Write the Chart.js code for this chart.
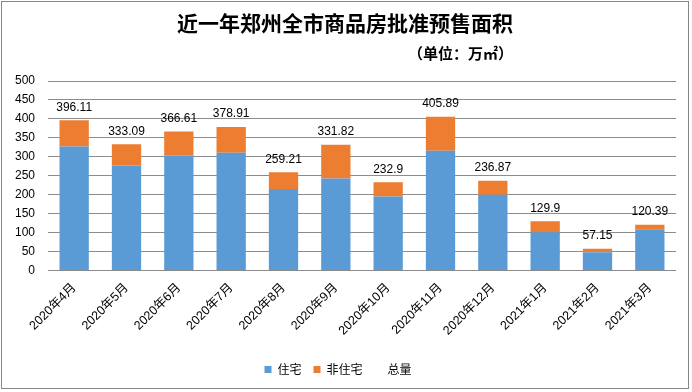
<!DOCTYPE html>
<html><head><meta charset="utf-8">
<script src="https://cdn.jsdelivr.net/npm/chart.js@4/dist/chart.umd.min.js"></script>
<style>html,body{margin:0;padding:0;background:#fff}#wrap{width:692px;height:392px}canvas{display:block}</style>
</head><body><div id="wrap"><canvas id="c" width="692" height="392"></canvas></div>
<script>
const categories = ['2020年4月','2020年5月','2020年6月','2020年7月','2020年8月','2020年9月','2020年10月','2020年11月','2020年12月','2021年1月','2021年2月','2021年3月'];
const residential = [327, 277, 303, 311, 215, 243, 195, 316, 200, 101, 48, 109];
const nonResidential = [69.11, 56.09, 63.61, 67.91, 44.21, 88.82, 37.9, 89.89, 36.87, 28.9, 9.15, 11.39];
const totals = [396.11, 333.09, 366.61, 378.91, 259.21, 331.82, 232.9, 405.89, 236.87, 129.9, 57.15, 120.39];
const seriesNames = ['住宅', '非住宅', '总量'];
const yMin = 0, yMax = 500, yStep = 50;
const titleText = '近一年郑州全市商品房批准预售面积';
const unitText = '（单位：万㎡）';

const CJK = '"Noto Sans CJK SC"';
const LAT = '"Liberation Sans", "Noto Sans CJK SC", sans-serif';

const frameAndHeader = {
  id: 'frameAndHeader',
  beforeDraw(chart) {
    const ctx = chart.ctx;
    ctx.save();
    ctx.fillStyle = '#fff';
    ctx.fillRect(0, 0, chart.width, chart.height);
    ctx.restore();
  },
  afterDraw(chart) {
    const ctx = chart.ctx;
    ctx.save();
    ctx.strokeStyle = '#878787';
    ctx.lineWidth = 1;
    ctx.strokeRect(1.5, 1.5, 687, 387);
    ctx.fillStyle = '#000';
    ctx.textBaseline = 'middle';
    ctx.textAlign = 'center';
    ctx.font = 'bold 21px ' + CJK;
    ctx.fillText(titleText, 345, 23);
    ctx.textAlign = 'right';
    ctx.font = 'bold 15px ' + CJK;
    ctx.fillText(unitText, 513, 53);
    ctx.restore();
  }
};

const totalLabels = {
  id: 'totalLabels',
  afterDatasetsDraw(chart) {
    const ctx = chart.ctx;
    const meta = chart.getDatasetMeta(2);
    const y = chart.scales.y;
    ctx.save();
    ctx.fillStyle = '#000';
    ctx.font = '12px ' + LAT;
    ctx.textAlign = 'center';
    ctx.textBaseline = 'middle';
    meta.data.forEach((pt, i) => {
      ctx.fillText(String(totals[i]), pt.x, y.getPixelForValue(totals[i]) - 13);
    });
    ctx.restore();
  }
};

new Chart(document.getElementById('c'), {
  data: {
    labels: categories,
    datasets: [
      { type: 'bar', label: seriesNames[0], data: residential, backgroundColor: '#5B9BD5', stack: 's', barPercentage: 0.56, categoryPercentage: 1 },
      { type: 'bar', label: seriesNames[1], data: nonResidential, backgroundColor: '#ED7D31', stack: 's', barPercentage: 0.56, categoryPercentage: 1 },
      { type: 'line', label: seriesNames[2], data: totals, stack: 'total', showLine: false, pointRadius: 0, backgroundColor: 'rgba(0,0,0,0)', borderColor: 'rgba(0,0,0,0)' }
    ]
  },
  options: {
    responsive: false,
    animation: false,
    devicePixelRatio: 1,
    layout: { padding: { top: 81, left: 0, right: 16, bottom: 6.5 } },
    plugins: {
      legend: {
        position: 'bottom',
        labels: {
          boxWidth: 7, boxHeight: 7, padding: 12,
          color: '#000',
          font: { family: CJK, size: 12 }
        }
      },
      tooltip: { enabled: false },
      title: { display: false }
    },
    scales: {
      x: {
        stacked: true,
        offset: true,
        grid: { display: false, drawTicks: false },
        border: { display: false },
        ticks: { minRotation: 45, maxRotation: 45, padding: 10, color: '#000', font: { family: LAT, size: 12.5 } },
        afterFit(s) { s.height = 81; }
      },
      y: {
        stacked: true,
        min: yMin, max: yMax,
        grid: { color: '#8c8c8c', drawTicks: false, lineWidth: 1 },
        border: { display: false },
        ticks: { stepSize: yStep, padding: 13, color: '#000', font: { family: LAT, size: 12 } },
        afterFit(s) { s.width = 48; }
      }
    }
  },
  plugins: [frameAndHeader, totalLabels]
});
</script>
</body></html>
